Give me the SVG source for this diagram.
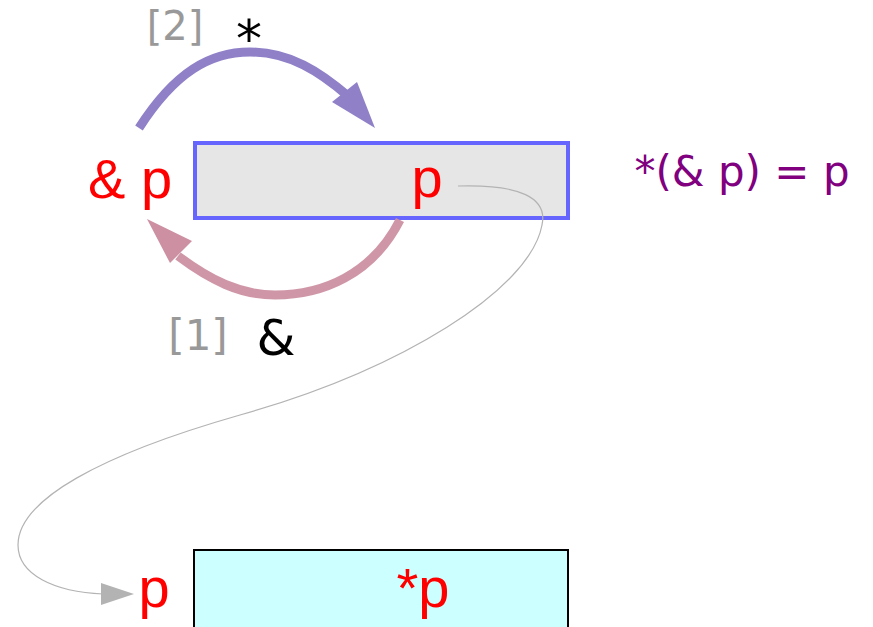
<svg xmlns="http://www.w3.org/2000/svg" width="873" height="627" viewBox="0 0 873 627">
<style>
.red{fill:#ff0000;font-family:"Liberation Sans",Arial,sans-serif;font-size:56px}
.dv{font-family:"DejaVu Sans",sans-serif}
.gray{fill:#999999}
.blk{fill:#000000}
</style>
<rect width="873" height="627" fill="#ffffff"/>
<g id="node-p">
<rect x="195" y="143" width="373" height="75" fill="#e6e6e6" stroke="#6666ff" stroke-width="4"/>
<text x="427" y="197" class="red" text-anchor="middle">p</text>
<text x="130" y="198" class="red" text-anchor="middle">&amp; p</text>
</g>
<g id="node-star-p">
<rect x="194" y="550" width="374" height="80" fill="#ccffff" stroke="#000000" stroke-width="2"/>
<text x="423" y="607" class="red" text-anchor="middle">*p</text>
<text x="154" y="607" class="red" text-anchor="middle">p</text>
</g>
<g id="connectors">
<path d="M458,186 C520,184 548,198 542,225 C530,290 400,370 240,415 C100,455 18,500 18,545 C18,575 55,592 103,594" fill="none" stroke="#b3b3b3" stroke-width="1.2"/>
<polygon points="134,594 101,583 101,605" fill="#b3b3b3"/>
<path d="M139,128 C175,72 210,52 250,52 C290,52 320,72 348,96" fill="none" stroke="#9080c8" stroke-width="9"/>
<polygon points="375,128 332,102 357,82" fill="#9080c8"/>
<path d="M400,220 C372,275 322,295 275,295 C240,295 210,280 178,256" fill="none" stroke="#cc90a2" stroke-width="9" stroke-opacity="0.95"/>
<polygon points="147,219 170,263 192,241" fill="#cc90a2"/>
</g>
<g id="labels">
<text x="175" y="40" class="dv gray" font-size="40" text-anchor="middle">[2]</text>
<text x="249" y="57" class="dv blk" font-size="52" text-anchor="middle">*</text>
<text x="198" y="350" class="dv gray" font-size="42" text-anchor="middle">[1]</text>
<text x="276" y="355" class="dv blk" font-size="50" text-anchor="middle">&amp;</text>
<text x="742" y="186" class="dv" fill="#800080" font-size="42" text-anchor="middle">*(&amp; p) = p</text>
</g>
</svg>
